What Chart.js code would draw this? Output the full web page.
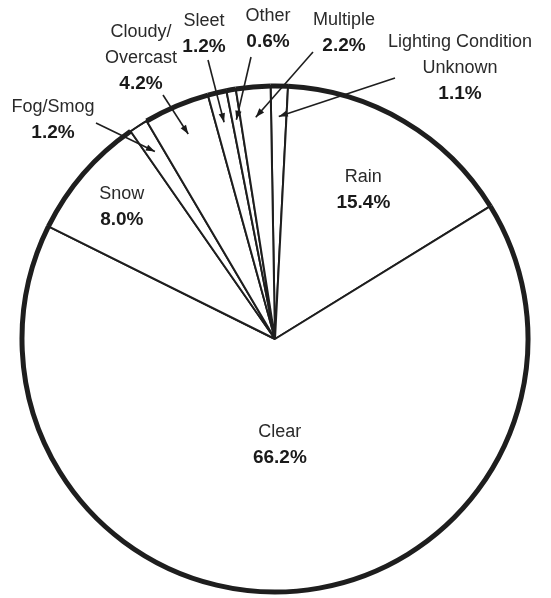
<!DOCTYPE html>
<html>
<head>
<meta charset="utf-8">
<script src="https://cdn.jsdelivr.net/npm/chart.js@4.4.1/dist/chart.umd.min.js"></script>
<style>
  html, body { margin: 0; padding: 0; background: #fff; }
  #wrap { width: 551px; height: 598px; }
</style>
</head>
<body>
<div id="wrap"><canvas id="pieChart"></canvas></div>
<script>
// data, clockwise from the top
const categories = ['Lighting Condition|Unknown', 'Rain', 'Clear', 'Snow', 'Fog/Smog', 'Cloudy/|Overcast', 'Sleet', 'Other', 'Multiple'];
const shares = [1.1, 15.4, 66.2, 8.0, 1.2, 4.2, 1.2, 0.6, 2.2];
const pctLabels = ['1.1%', '15.4%', '66.2%', '8.0%', '1.2%', '4.2%', '1.2%', '0.6%', '2.2%'];

// where each label goes: inside slices by radius fraction, outside ones at a text spot with a leader
const labelLayout = [
    { out: true, x: 460, y: 42, tail: [395, 78] },
    { out: false, r: 0.685 },
    { out: false, r: 0.42 },
    { out: false, r: 0.80 },
    { out: true, x: 53, y: 107, tail: [96, 123] },
    { out: true, x: 141, y: 32, tail: [163, 95] },
    { out: true, x: 204, y: 21, tail: [208, 60] },
    { out: true, x: 268, y: 16, tail: [251, 57] },
    { out: true, x: 344, y: 20, tail: [313, 52] }
];

const NAME_FONT = '18px "Liberation Sans", Arial, sans-serif';
const PCT_FONT = 'bold 19px "Liberation Sans", Arial, sans-serif';
const LINE_H = 26;

function drawArrow(ctx, x1, y1, x2, y2) {
    ctx.beginPath();
    ctx.moveTo(x1, y1);
    ctx.lineTo(x2, y2);
    ctx.lineWidth = 1.6;
    ctx.stroke();
    const a = Math.atan2(y2 - y1, x2 - x1);
    const len = 9, w = 3.2;
    ctx.beginPath();
    ctx.moveTo(x2, y2);
    ctx.lineTo(x2 - len * Math.cos(a) + w * Math.sin(a), y2 - len * Math.sin(a) - w * Math.cos(a));
    ctx.lineTo(x2 - len * Math.cos(a) - w * Math.sin(a), y2 - len * Math.sin(a) + w * Math.cos(a));
    ctx.closePath();
    ctx.fill();
}

const ringAndLabels = {
    id: 'ringAndLabels',
    afterDatasetsDraw(chart) {
        const ctx = chart.ctx;
        const meta = chart.getDatasetMeta(0);
        ctx.save();
        ctx.strokeStyle = '#1e1e1e';
        ctx.fillStyle = '#1e1e1e';

        // heavy outer rim (thin over the fog slice, like the original)
        meta.data.forEach((arc, i) => {
            ctx.beginPath();
            ctx.arc(arc.x, arc.y, arc.outerRadius, arc.startAngle, arc.endAngle);
            ctx.lineWidth = i === 4 ? 1.5 : 5;
            ctx.stroke();
        });

        meta.data.forEach((arc, i) => {
            const lay = labelLayout[i];
            const mid = (arc.startAngle + arc.endAngle) / 2;
            const R = arc.outerRadius;
            let tx, ty;
            if (lay.out) {
                tx = lay.x; ty = lay.y;
                const tipX = arc.x + Math.cos(mid) * R * 0.88;
                const tipY = arc.y + Math.sin(mid) * R * 0.88;
                drawArrow(ctx, lay.tail[0], lay.tail[1], tipX, tipY);
            } else {
                tx = arc.x + Math.cos(mid) * R * lay.r;
                ty = arc.y + Math.sin(mid) * R * lay.r - LINE_H / 2;
            }
            const lines = categories[i].split('|');
            ctx.textAlign = 'center';
            ctx.textBaseline = 'middle';
            ctx.font = NAME_FONT;
            ctx.fillStyle = '#2a2a2a';
            lines.forEach((ln, k) => ctx.fillText(ln, tx, ty + k * LINE_H));
            ctx.font = PCT_FONT;
            ctx.fillStyle = '#1a1a1a';
            ctx.fillText(pctLabels[i], tx, ty + lines.length * LINE_H);
        });
        ctx.restore();
    }
};

const ctx = document.getElementById('pieChart').getContext('2d');
new Chart(ctx, {
    type: 'pie',
    data: {
        labels: categories,
        datasets: [{
            data: shares,
            backgroundColor: '#ffffff',
            borderColor: '#1e1e1e',
            borderWidth: 2,
            hoverOffset: 0
        }]
    },
    options: {
        responsive: true,
        maintainAspectRatio: false,
        animation: false,
        rotation: -1,
        radius: 253,
        layout: { padding: { top: 86, bottom: 6, left: 22, right: 23 } },
        plugins: {
            legend: { display: false },
            tooltip: { enabled: false }
        }
    },
    plugins: [ringAndLabels]
});
</script>
</body>
</html>
